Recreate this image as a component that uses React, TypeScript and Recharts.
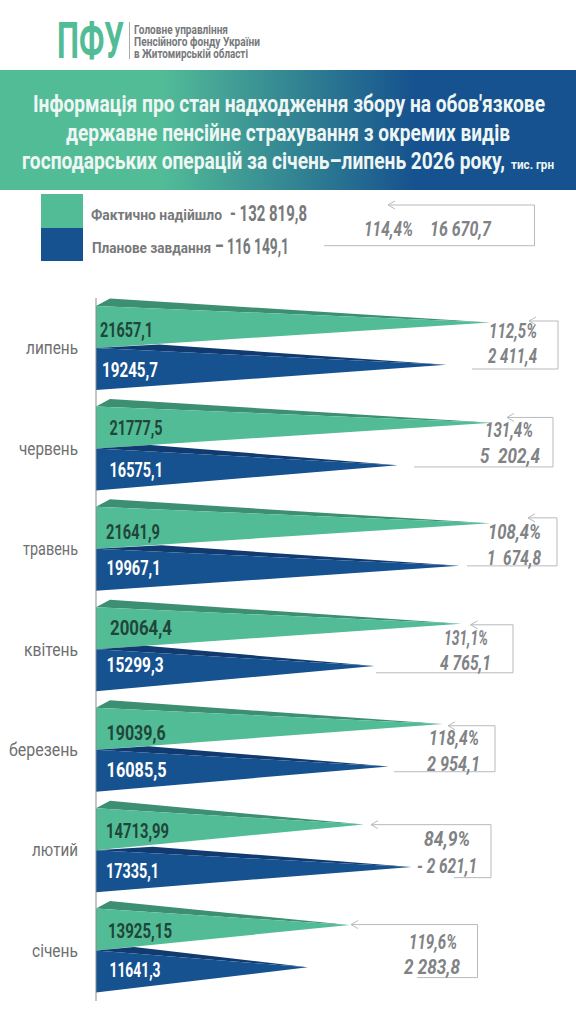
import React from "react";
import { BarChart, Bar, XAxis, YAxis, LabelList } from "recharts";

const months = ["липень", "червень", "травень", "квітень", "березень", "лютий", "січень"];
const actual = [21657.1, 21777.5, 21641.9, 20064.4, 19039.6, 14713.99, 13925.15];
const planned = [19245.7, 16575.1, 19967.1, 15299.3, 16085.5, 17335.1, 11641.3];
const percents = ["112,5%", "131,4%", "108,4%", "131,1%", "118,4%", "84,9%", "119,6%"];
const diffs = ["2 411,4", "5  202,4", "1  674,8", "4 765,1", "2 954,1", "- 2 621,1", "2 283,8"];

const rows = months.map((month, i) => ({ month, actual: actual[i], planned: planned[i] }));

// layout of the value labels: [x, textLength, baseline offset]
const actualLabelPos = [[100, 53, 31], [109.5, 53, 29], [106, 54, 32], [110, 62, 27.5], [106.6, 59, 32], [106, 63, 29.5], [108, 64, 29]];
const plannedLabelPos = [[102, 56, 29], [109.5, 53.5, 28.5], [106.6, 54, 26], [106.6, 57, 22.5], [106.6, 60, 27], [106, 53, 27.5], [109.5, 51, 26]];
// layout of the side notes
const bracketArrow = [529, 507, 528, 470.6, 448, 371, 351];
const bracketRight = [558, 553, 557, 513, 495, 491, 477.5];
const bracketLeft = [472, 414, 467, 376, 394, 454, 417];
const bracketTop = [-27, -31, -31, -24.5, -24, -25.5, -26];
const bracketBottom = [21, 18.5, 17, 23.5, 22, 27.5, 27];
const pctPos = [[489, 48, -10], [485, 48, -11.5], [488, 53, -10], [444, 44, -4.5], [429, 50, -5], [424, 46, -4.5], [409, 48, -2]];
const diffPos = [[488, 49, 15], [480, 60, 14.5], [487, 54, 16], [440, 51, 20.5], [427, 53, 21], [417, 60, 22.5], [404, 56, 23]];
const monthWidths = [52, 59, 55, 54, 69, 46, 46];

const GREEN = "#52bc97";
const GREEN_DARK = "#3c8f73";
const BLUE = "#16528f";
const BLUE_DARK = "#103a70";
const GREY = "#808285";
const NARROW = "'Liberation Sans Narrow', Roboto, sans-serif";

const GreenBar = (p: any) => {
  const { x, y, width: w, height: h } = p;
  const tipY = y + h * 0.39;
  return (
    <g>
      <polygon points={`${x},${y} ${x + 14},${y - 7.5} ${x + w},${tipY}`} fill={GREEN_DARK} />
      <polygon points={`${x},${y} ${x + w},${tipY} ${x},${y + h}`} fill={GREEN} />
    </g>
  );
};

const BlueBar = (p: any) => {
  const { x, y, width: w, height: h } = p;
  const tipY = y + h * 0.4;
  return (
    <g>
      <polygon points={`${x},${y} ${x + w * 0.18},${y - 3.5} ${x + w},${tipY}`} fill={BLUE_DARK} />
      <polygon points={`${x},${y} ${x + w},${tipY} ${x},${y + h}`} fill={BLUE} />
    </g>
  );
};

const fmt = (v: any) => String(v).replace(".", ",");

const ActualLabel = (p: any) => {
  const [lx, len, dy] = actualLabelPos[p.index];
  return (
    <text x={lx} y={p.y + dy} fontFamily={NARROW} fontWeight={700} fontSize={21} fill="#1f4638"
      textLength={len} lengthAdjust="spacingAndGlyphs">{fmt(p.value)}</text>
  );
};

const PlannedLabel = (p: any) => {
  const [lx, len, dy] = plannedLabelPos[p.index];
  return (
    <text x={lx} y={p.y + dy} fontFamily={NARROW} fontWeight={700} fontSize={21} fill="#ffffff"
      textLength={len} lengthAdjust="spacingAndGlyphs">{fmt(p.value)}</text>
  );
};

const Note = (p: any) => {
  const i = p.index;
  const top = p.y + bracketTop[i];
  const bottom = p.y + bracketBottom[i];
  const a = bracketArrow[i];
  const [px, pl, pd] = pctPos[i];
  const [dx, dl, dd] = diffPos[i];
  return (
    <g>
      <path d={`M${a},${top} H${bracketRight[i]} V${bottom} H${bracketLeft[i]} M${a + 7},${top - 4} L${a},${top} L${a + 7},${top + 4}`}
        fill="none" stroke="#b9babc" strokeWidth={1} />
      <text x={px} y={p.y + pd} fontFamily={NARROW} fontStyle="italic" fontWeight={700} fontSize={21} fill={GREY}
        textLength={pl} lengthAdjust="spacingAndGlyphs">{percents[i]}</text>
      <text x={dx} y={p.y + dd} xmlSpace="preserve" fontFamily={NARROW} fontStyle="italic" fontWeight={700} fontSize={21} fill={GREY}
        textLength={dl} lengthAdjust="spacingAndGlyphs">{diffs[i]}</text>
    </g>
  );
};

const MonthTick = (p: any) => (
  <text x={78} y={p.y + 6} textAnchor="end" fontFamily={NARROW} fontWeight={400} fontSize={19} fill="#6d6f71"
    textLength={monthWidths[p.index]} lengthAdjust="spacingAndGlyphs">{p.payload.value}</text>
);

// sy stretches a glyph vertically, so that small natural widths can still reach the reference height
const T = ({ x, y, len, size, fill, sy = 1, weight = 700, italic = false, children }: any) => (
  <text transform={`translate(${x},${y}) scale(1,${sy})`} fontFamily={NARROW} fontWeight={weight} fontStyle={italic ? "italic" : "normal"} fontSize={size} fill={fill}
    textLength={len} lengthAdjust="spacingAndGlyphs" xmlSpace="preserve">{children}</text>
);

const Header = () => (
  <svg width={576} height={1024} style={{ position: "absolute", left: 0, top: 0 }}>
    <defs>
      <linearGradient id="band" x1="0" y1="0" x2="1" y2="0">
        <stop offset="0.28" stopColor={GREEN} />
        <stop offset="0.72" stopColor={BLUE} />
      </linearGradient>
    </defs>
    <T x={57} y={58} len={67} size={34} sy={1.47} fill={GREEN}>ПФУ</T>
    <line x1={129.5} y1={22} x2={129.5} y2={59} stroke="#a8aaac" strokeWidth={1} />
    <T x={134} y={34} len={94} size={10} sy={1.2} fill="#77797b">Головне управління</T>
    <T x={134} y={46} len={126} size={10} sy={1.2} fill="#77797b">Пенсійного фонду України</T>
    <T x={134} y={58} len={114} size={10} sy={1.2} fill="#77797b">в Житомирській області</T>
    <rect x={0} y={70} width={576} height={120} fill="url(#band)" />
    <T x={33} y={112} len={512} size={20} sy={1.2} fill="#eef6f4">Інформація про стан надходження збору на обов'язкове</T>
    <T x={66} y={141} len={444} size={20} sy={1.2} fill="#eef6f4">державне пенсійне страхування з окремих видів</T>
    <T x={22} y={169} len={483} size={20} sy={1.2} fill="#eef6f4">господарських операцій за січень–липень 2026 року,</T>
    <T x={511} y={169} len={43} size={11} sy={1.1} fill="#eef6f4">тис. грн</T>
    <rect x={41} y={194} width={42} height={34} fill={GREEN} />
    <rect x={41} y={228} width={42} height={33} fill={BLUE} />
    <T x={91} y={220} len={131} size={15} fill="#77797b">Фактично надійшло</T>
    <T x={230} y={221} len={77} size={22} fill="#77797b">- 132 819,8</T>
    <T x={92} y={253} len={119} size={15} fill="#77797b">Планове завдання</T>
    <T x={215} y={254} len={74} size={22} fill="#77797b">– 116 149,1</T>
    <path d="M395,201 L388,205 L395,209 M388,205 H534.5 V245.7 H324" fill="none" stroke="#b9babc" strokeWidth={1} />
    <T x={364} y={236} len={49} size={21} fill={GREY} italic>114,4%</T>
    <T x={430} y={236} len={61} size={21} fill={GREY} italic>16 670,7</T>
  </svg>
);

export default function App() {
  return (
    <div style={{ position: "relative", width: 576, height: 1024, background: "#fff", overflow: "hidden" }}>
      <style>{`body{margin:0;background:#fff}`}</style>
      <Header />
      <div style={{ position: "absolute", left: 0, top: 0 }}>
        <BarChart width={576} height={1024} data={rows} layout="vertical"
          margin={{ top: 298, right: 25, bottom: 23, left: 0 }} barGap={0} barCategoryGap={8}>
          <XAxis type="number" domain={[0, 25000]} hide />
          <YAxis type="category" dataKey="month" width={96} tickLine={false}
            axisLine={{ stroke: "#8a8c8e" }} tick={MonthTick} interval={0} />
          <Bar dataKey="actual" shape={GreenBar} isAnimationActive={false}>
            <LabelList dataKey="actual" content={ActualLabel} />
          </Bar>
          <Bar dataKey="planned" shape={BlueBar} isAnimationActive={false}>
            <LabelList dataKey="planned" content={PlannedLabel} />
            <LabelList dataKey="planned" content={Note} />
          </Bar>
        </BarChart>
      </div>
    </div>
  );
}
